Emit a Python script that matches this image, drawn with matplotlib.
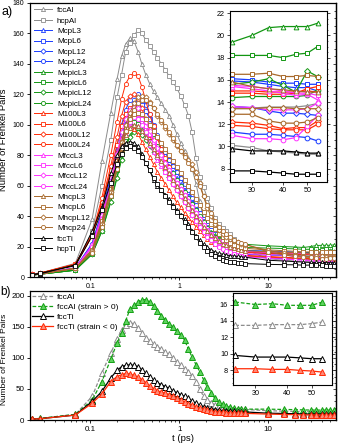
import matplotlib
matplotlib.use('Agg')
import matplotlib.pyplot as plt
from matplotlib.ticker import FixedLocator, FixedFormatter, NullFormatter, NullLocator, LogLocator, MultipleLocator

plt.rcParams['font.family'] = ['Liberation Sans', 'DejaVu Sans']

# time grid (ps)
t = [0.022, 0.027, 0.068,
     0.105, 0.135, 0.17, 0.2, 0.225, 0.25, 0.28, 0.31, 0.345, 0.38,
     0.42, 0.465, 0.515, 0.57, 0.63, 0.7, 0.77, 0.85, 0.94, 1.04,
     1.15, 1.27, 1.4, 1.55, 1.7, 1.88, 2.07, 2.29, 2.52, 2.78,
     3.07, 3.39, 3.74, 4.12, 4.55, 5.0, 5.5,
     10, 15, 20, 25, 30, 35, 40, 45, 50, 55]

# number of Frenkel pairs, panel a
fccAl = [1.5, 2.5, 9,
         38, 76, 108, 130, 145, 153, 157, 155, 148, 140,
         133, 127, 122, 118, 114, 110, 106, 100, 94, 88,
         83, 78, 71, 61, 50, 38, 32, 28, 24.5, 22,
         20.5, 19.5, 18.7, 18, 17.5, 17.2, 17,
         15, 14.3, 13.8, 13.46, 13.46, 13.55, 13.55, 13.55, 13.67, 13.87]
hcpAl = [1.5, 2.5, 8,
         30, 60, 90, 118, 133, 148, 154, 159, 162, 160,
         156, 152, 148, 144, 140, 136, 132, 128, 124, 119,
         113, 106, 95, 78, 66, 59, 52, 45, 39, 35,
         32, 30, 28, 25, 22, 20, 18,
         12, 11, 10.5, 10.1, 9.9, 9.6, 9.5, 9.4, 9.3, 9.3]
McpL3 = [1.5, 2, 6,
         22, 42, 64, 82, 95, 104, 110, 112, 111, 107,
         102, 96, 91, 86, 81, 77, 73, 69, 65, 61,
         57, 53, 49, 44, 40, 36, 32, 29, 26, 24,
         22, 20.5, 19.5, 18.5, 17.8, 17.2, 16.8,
         16.5, 16.3, 16.1, 15.9, 15.8, 15.6, 15.4, 15.3, 15.3, 15.0]
McpL6 = [1.5, 2, 6,
         20, 40, 62, 80, 93, 103, 110, 114, 115, 113,
         109, 104, 98, 92, 87, 82, 77, 73, 69, 65,
         60, 56, 51, 46, 42, 38, 34, 31, 28, 25.5,
         23.5, 22, 20.5, 19.5, 18.5, 18, 17.5,
         17, 16.7, 16.4, 16.1, 16.0, 15.8, 15.7, 15.7, 15.6, 15.6]
McpL12 = [1.5, 2, 6,
          21, 41, 62, 79, 91, 100, 106, 108, 106, 102,
          97, 92, 87, 82, 77, 73, 69, 65, 61, 57,
          53, 49, 45, 41, 37, 33, 30, 27, 24.5, 22,
          20, 18.5, 17.5, 16.5, 15.8, 15.2, 14.8,
          14.4, 14.2, 13.9, 13.6, 13.5, 13.2, 13.0, 13.0, 12.9, 12.8]
McpL24 = [1.5, 2, 6,
          22, 43, 66, 86, 100, 110, 116, 119, 120, 118,
          113, 107, 100, 93, 87, 82, 77, 73, 69, 65,
          61, 57, 52, 47, 42, 37, 33, 29, 26, 23,
          21, 19, 17.5, 16.3, 15.3, 14.5, 13.8,
          12.5, 12.0, 11.6, 11.3, 11.1, 11.1, 11.0, 10.9, 10.8, 10.5]
McpicL3 = [1.2, 1.8, 4.5,
           15, 30, 50, 66, 78, 87, 93, 97, 98, 97,
           94, 90, 86, 82, 78, 74, 70, 66, 62, 58,
           54, 50, 46, 42, 38, 35, 32, 29.5, 27.5, 26,
           25, 24, 23.3, 22.7, 22.2, 21.8, 21.5,
           20.5, 20, 19.7, 19.4, 20.0, 20.7, 20.8, 20.8, 20.8, 21.1]
McpicL6 = [1.2, 1.8, 4.5,
           16, 32, 53, 70, 83, 92, 99, 102, 103, 101,
           97, 92, 87, 82, 77, 73, 69, 65, 61, 57,
           53, 49, 45, 41, 37, 34, 31, 28.5, 26.5, 25,
           23.5, 22.5, 21.5, 20.8, 20.2, 19.8, 19.4,
           19, 18.7, 18.5, 18.2, 18.2, 18.2, 18.0, 18.3, 18.4, 19.0]
McpicL12 = [1.2, 1.8, 4.5,
            15, 30, 49, 65, 77, 86, 92, 95, 95, 93,
            90, 86, 82, 78, 74, 70, 66, 62, 58, 54,
            50, 46, 42, 38, 34, 31, 28, 26, 24, 22.5,
            21, 20, 19.2, 18.5, 18, 17.5, 17.2,
            16.5, 16.2, 15.9, 15.6, 15.8, 16.1, 15.5, 14.9, 16.8, 16.3]
McpicL24 = [1.2, 1.8, 4.5,
            17, 35, 57, 75, 89, 99, 105, 108, 108, 106,
            101, 96, 91, 86, 81, 76, 72, 68, 64, 60,
            56, 52, 48, 44, 40, 36, 32, 29, 26, 24,
            22, 20.5, 19.3, 18.3, 17.5, 16.8, 16.3,
            15.5, 15.1, 14.8, 14.4, 14.5, 14.5, 14.5, 14.5, 14.6, 15.1]
M100L3 = [2, 2.5, 8.5,
          28, 48, 68, 82, 91, 96, 98, 97, 94, 89,
          84, 79, 74, 69, 65, 61, 57, 53, 49, 46,
          42, 39, 36, 33, 30, 27.5, 25, 23, 21.5, 20.3,
          19.3, 18.5, 17.8, 17.2, 16.7, 16.3, 16,
          15.6, 15.3, 15.1, 15.0, 15.0, 14.9, 14.9, 14.9, 15.0, 14.9]
M100L6 = [2, 2.5, 8.5,
          27, 48, 70, 87, 99, 107, 111, 112, 110, 105,
          99, 93, 87, 81, 76, 71, 66, 62, 58, 54,
          50, 46, 42, 38, 34.5, 31, 28, 25.5, 23.5, 21.8,
          20.5, 19.4, 18.5, 17.8, 17.2, 16.7, 16.3,
          15.8, 15.4, 15.1, 14.8, 14.8, 14.7, 14.7, 14.8, 15.2, 15.4]
M100L12 = [2, 2.5, 8,
           27, 49, 73, 92, 106, 115, 119, 120, 117, 111,
           104, 97, 90, 83, 77, 71, 66, 61, 57, 53,
           49, 45, 41, 37, 33, 30, 27, 24.5, 22.3, 20.5,
           19, 17.8, 16.8, 16, 15.3, 14.7, 14.2,
           13.5, 13, 12.6, 12.2, 12.1, 11.9, 11.6, 11.7, 11.7, 12.3]
M100L24 = [2, 2.5, 8,
           28, 52, 80, 102, 117, 127, 132, 134, 132, 125,
           116, 107, 99, 91, 84, 78, 72, 66, 61, 56,
           51, 47, 43, 39, 35, 31, 28, 25.5, 23, 21,
           19.3, 18, 16.8, 15.8, 15, 14.3, 13.8,
           13, 12.6, 12.2, 11.9, 11.8, 11.6, 11.5, 11.5, 11.5, 12.0]
MfccL3 = [1.5, 2, 6,
          20, 38, 58, 74, 86, 94, 99, 100, 99, 96,
          92, 87, 82, 77, 73, 69, 65, 61, 57, 53,
          49, 45, 41, 37, 33.5, 30.5, 28, 25.5, 23.5, 22,
          20.8, 19.8, 19, 18.3, 17.7, 17.2, 16.8,
          16.3, 16, 15.7, 15.4, 15.2, 15.0, 14.8, 14.6, 14.7, 14.2]
MfccL6 = [1.5, 2, 6,
          20, 39, 60, 77, 90, 99, 105, 108, 107, 104,
          99, 94, 89, 84, 79, 74, 70, 66, 62, 58,
          54, 50, 46, 42, 38, 34, 31, 28, 25.5, 23.5,
          22, 20.7, 19.7, 18.8, 18.1, 17.5, 17,
          16.5, 16.2, 15.8, 15.5, 15.4, 15.2, 15.0, 14.8, 14.8, 14.6]
MfccL12 = [1.5, 2, 6,
           21, 41, 63, 81, 95, 104, 110, 112, 111, 107,
           102, 96, 90, 85, 80, 75, 70, 66, 62, 58,
           54, 50, 46, 42, 38, 34, 30.5, 27.5, 25, 23,
           21, 19.5, 18.3, 17.3, 16.5, 15.8, 15.3,
           14.7, 14.4, 14, 13.6, 13.5, 13.3, 13.3, 13.3, 13.4, 13.9]
MfccL24 = [1.5, 2, 6,
           20, 38, 59, 76, 88, 97, 102, 105, 104, 100,
           95, 89, 84, 79, 74, 69, 65, 61, 57, 53,
           49, 45, 41, 37, 33, 29.5, 26.5, 24, 22, 20,
           18.5, 17.2, 16.1, 15.2, 14.4, 13.8, 13.3,
           12.3, 11.8, 11.4, 11.0, 10.7, 10.7, 10.6, 10.8, 11.8, 12.8]
MhcpL3 = [1.5, 2, 5.7,
          18, 36, 56, 72, 84, 93, 98, 100, 99, 96,
          92, 88, 84, 80, 76, 72, 68, 64, 60, 56,
          52, 48, 44, 40, 36.5, 33, 30, 27.5, 25.5, 23.5,
          22, 20.8, 19.8, 19, 18.3, 17.7, 17.2,
          16.6, 16.3, 16, 15.8, 15.4, 15.2, 15.1, 15.0, 14.9, 14.9]
MhcpL6 = [1.5, 2, 5.7,
          18, 37, 58, 76, 89, 98, 104, 107, 108, 107,
          104, 100, 96, 92, 88, 84, 80, 76, 72, 68,
          64, 60, 56, 51, 47, 43, 39, 35, 31.5, 28.5,
          26, 24, 22.5, 21.2, 20.2, 19.4, 18.8,
          17.8, 17.3, 16.9, 16.5, 16.5, 16.6, 16.3, 16.3, 16.4, 16.3]
MhcpL12 = [1.5, 2, 5.7,
           17, 35, 56, 75, 89, 100, 108, 114, 118, 119,
           118, 115, 111, 106, 102, 98, 94, 90, 86, 83,
           80, 77, 74, 69, 62, 53, 45, 40, 35, 31,
           28.5, 26.5, 25, 23.8, 22.8, 22, 21.3,
           17.5, 15.5, 14.5, 13.4, 13.4, 13.5, 13.5, 13.4, 13.4, 13.4]
Mhcp24 = [1.5, 2, 5.7,
          16, 33, 53, 71, 85, 96, 104, 110, 114, 116,
          116, 114, 111, 107, 103, 99, 95, 91, 87, 83,
          79, 75, 71, 66, 60, 53, 47, 42, 37, 33,
          30, 28, 26, 24.5, 23.3, 22.3, 21.5,
          16.5, 14.5, 13.5, 12.9, 12.9, 12.3, 12.1, 12.1, 12.2, 12.6]
fccTi = [1.5, 2, 8,
         30, 46, 68, 80, 86, 88, 89, 88, 86, 81,
         75, 70, 64, 60, 57, 54, 51, 47, 44, 41,
         38, 35, 30, 27, 24, 21.5, 19.5, 18, 16.5, 15.5,
         15, 14.5, 14, 13.8, 13.5, 13.3, 13,
         11, 10.5, 10.1, 9.8, 9.6, 9.6, 9.6, 9.5, 9.4, 9.4]
hcpTi = [1.5, 2.5, 7.4,
         27, 44, 62, 74, 81, 85, 86, 85, 83, 79,
         75, 70, 65, 61, 57, 53, 49, 46, 43, 40,
         36, 33, 29.5, 26, 22.5, 19.5, 17, 15, 13.5, 12.3,
         11.3, 10.5, 10, 9.6, 9.3, 9, 8.8,
         8.3, 8.1, 8.0, 7.8, 7.8, 7.7, 7.6, 7.5, 7.5, 7.5]

# panel b, strained runs
fccAl_tens = [1.5, 2.5, 9,
              32, 62, 98, 124, 140, 160, 179, 185, 191, 194,
              194, 190, 184, 176, 168, 161, 155, 150, 144, 137,
              129, 114, 101, 89, 78, 65, 53, 43, 35, 29,
              25, 22, 20.5, 19.5, 18.5, 18, 17.5,
              17.5, 17, 16.7, 16.3, 16.0, 16.1, 15.9, 15.9, 15.9, 16.3]
fccTi_comp = [1.5, 2, 8,
              27, 42, 62, 70, 73, 75, 74, 72, 69, 65,
              60, 55, 50, 47, 45, 43, 41, 38, 35, 32,
              29, 26.5, 24, 21.5, 19, 17, 15.5, 14.5, 13.5, 13,
              12.5, 12, 11.7, 11.4, 11.1, 10.9, 10.7,
              9.5, 9, 8.6, 8.18, 8.18, 8.1, 8.1, 7.98, 7.9, 7.77]

labels_a = ['fccAl', 'hcpAl', 'McpL3', 'McpL6', 'McpL12', 'McpL24',
            'McpicL3', 'McpicL6', 'McpicL12', 'McpicL24',
            'M100L3', 'M100L6', 'M100L12', 'M100L24',
            'MfccL3', 'MfccL6', 'MfccL12', 'MfccL24',
            'MhcpL3', 'MhcpL6', 'MhcpL12', 'Mhcp24', 'fccTi', 'hcpTi']
series_a = [fccAl, hcpAl, McpL3, McpL6, McpL12, McpL24,
            McpicL3, McpicL6, McpicL12, McpicL24,
            M100L3, M100L6, M100L12, M100L24,
            MfccL3, MfccL6, MfccL12, MfccL24,
            MhcpL3, MhcpL6, MhcpL12, Mhcp24, fccTi, hcpTi]

gray, blue, green, red, mag, brown = '#8c8c8c', '#1a3cff', '#129612', '#ff2a05', '#ff30ff', '#a8692a'
colors_a = [gray, gray] + [blue] * 4 + [green] * 4 + [red] * 4 + [mag] * 4 + [brown] * 4 + ['k', 'k']
mk4 = ['^', 's', 'D', 'o']
markers_a = ['^', 's'] + mk4 * 5 + ['^', 's']

labels_b = ['fccAl', 'fccAl (strain > 0)', 'fccTi', 'fccTi (strain < 0)']
series_b = [fccAl, fccAl_tens, fccTi, fccTi_comp]


def style_main(ax, ymax, ystep, yminor, tick_fs):
    ax.set_xscale('log')
    ax.set_xlim(0.021, 58)
    ax.set_ylim(0, ymax)
    ax.xaxis.set_major_locator(FixedLocator([0.1, 1, 10]))
    ax.xaxis.set_major_formatter(FixedFormatter(['0.1', '1', '10']))
    ax.xaxis.set_minor_locator(LogLocator(base=10, subs=range(2, 10), numticks=20))
    ax.xaxis.set_minor_formatter(NullFormatter())
    ax.yaxis.set_major_locator(MultipleLocator(ystep))
    ax.tick_params(which='major', length=2.5, width=0.6, labelsize=tick_fs, pad=1.5)
    ax.tick_params(which='minor', length=1.5, width=0.5)
    for s in ax.spines.values():
        s.set_linewidth(0.9)
    sec = ax.secondary_yaxis('right')
    sec.yaxis.set_major_locator(MultipleLocator(ystep))
    sec.yaxis.set_minor_locator(MultipleLocator(yminor))
    sec.tick_params(which='both', direction='in', labelright=False, width=0.5)
    sec.tick_params(which='major', length=2.5)
    sec.tick_params(which='minor', length=1.5)
    sec.spines['right'].set_linewidth(0.9)


def style_inset(ax, ylim, tick_fs):
    ax.set_xscale('log')
    ax.set_xlim(24.5, 60)
    ax.set_ylim(*ylim)
    ax.xaxis.set_major_locator(FixedLocator([30, 40, 50]))
    ax.xaxis.set_major_formatter(FixedFormatter(['30', '40', '50']))
    ax.xaxis.set_minor_locator(NullLocator())
    ax.yaxis.set_major_locator(MultipleLocator(2))
    ax.yaxis.set_minor_locator(MultipleLocator(0.5))
    ax.tick_params(which='major', length=2, width=0.5, labelsize=tick_fs, pad=1.5)
    ax.tick_params(which='minor', length=1, width=0.4)
    ax.tick_params(axis='y', which='both', right=True)
    for s in ax.spines.values():
        s.set_linewidth(0.8)


fig = plt.figure(figsize=(3.4, 4.44), dpi=100)
ax_a = fig.add_axes([30 / 340, 1 - 277 / 444, 306 / 340, 274 / 444])
ax_b = fig.add_axes([30 / 340, 1 - 420 / 444, 306 / 340, 129 / 444])
ins_a = fig.add_axes([230 / 340, 1 - 182 / 444, 97 / 340, 171 / 444])
ins_b = fig.add_axes([233 / 340, 1 - 385 / 444, 99 / 340, 92 / 444])

# panel a
for y, lab, c, m in zip(series_a, labels_a, colors_a, markers_a):
    ms = 2.6 if m == 'D' else 3.0
    ax_a.plot(t, y, color=c, marker=m, ms=ms, mfc='white', mec=c, mew=0.6, lw=0.7, label=lab)
    ins_a.plot(t[-7:], y[-7:], color=c, marker=m, ms=ms + 0.4, mfc='white', mec=c, mew=0.7, lw=0.9)
style_main(ax_a, 180, 20, 5, 5)
ax_a.set_ylabel('Number of Frenkel Pairs', fontsize=6.8)
ax_a.yaxis.set_label_coords(-0.072, 0.5)
ax_a.legend(loc='upper left', bbox_to_anchor=(0.0, 1.0), frameon=False, fontsize=5.8,
            handlelength=2.3, handletextpad=0.6, labelspacing=0.34, borderaxespad=0.25,
            borderpad=0.2)
style_inset(ins_a, (6.8, 22.2), 5.2)

# panel b
styles_b = [
    dict(color=gray, ls=(0, (3, 1.5)), mfc='white', mec=gray),
    dict(color='#14a014', ls=(0, (3, 1.5)), mfc='#5fd35f', mec='#14a014'),
    dict(color='k', ls='-', mfc='white', mec='k'),
    dict(color='#ff2a05', ls='-', mfc='#ff8a78', mec='#ff2a05'),
]
for y, lab, st in zip(series_b, labels_b, styles_b):
    ax_b.plot(t, y, marker='^', ms=4, mew=0.7, lw=0.9, label=lab, **st)
    ins_b.plot(t[-7:], y[-7:], marker='^', ms=4, mew=0.7, lw=0.9, **st)
style_main(ax_b, 208, 50, 10, 5.8)
ax_b.set_ylabel('Number of Frenkel Pairs', fontsize=6.0)
ax_b.yaxis.set_label_coords(-0.072, 0.47)
ax_b.set_xlabel('t (ps)', fontsize=6.8, labelpad=1)
ax_b.legend(loc='upper left', bbox_to_anchor=(0.0, 1.0), frameon=False, fontsize=6,
            handlelength=2.5, handletextpad=0.5, labelspacing=0.25, borderaxespad=0.05,
            borderpad=0.2)
style_inset(ins_b, (6.2, 17.4), 5.2)

fig.text(0.003, 1 - 11.5 / 444, 'a)', fontsize=9, va='center', ha='left')
fig.text(0.0, 1 - 292 / 444, 'b)', fontsize=8.5, va='center', ha='left')

fig.savefig('out.png', dpi=100)
